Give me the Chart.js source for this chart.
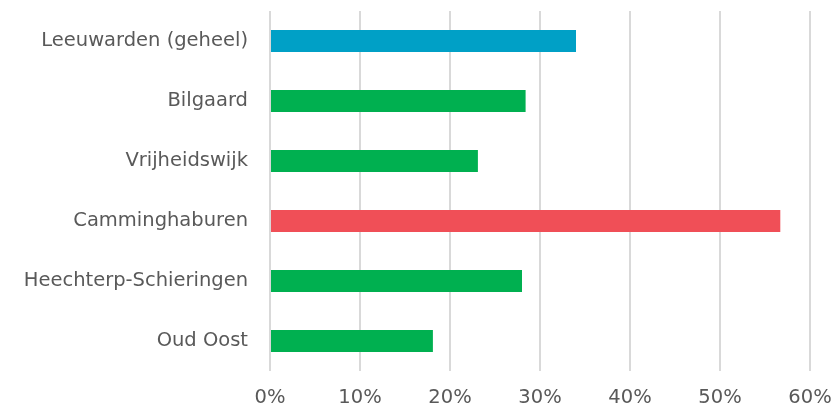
<!DOCTYPE html>
<html>
<head>
<meta charset="utf-8">
<script src="https://cdn.jsdelivr.net/npm/chart.js@4/dist/chart.umd.min.js"></script>
<style>
  html, body { margin: 0; padding: 0; background: #ffffff; }
  #wrap { width: 834px; height: 409px; }
</style>
</head>
<body>
<div id="wrap"><canvas id="barChart" width="834" height="409"></canvas></div>
<script>
// DATA
var wijken = ["Leeuwarden (geheel)", "Bilgaard", "Vrijheidswijk", "Camminghaburen", "Heechterp-Schieringen", "Oud Oost"];
var percentages = [34.0, 28.4, 23.1, 56.7, 28.0, 18.1];
var barColors = ["#00a0c6", "#00b050", "#00b050", "#f04f57", "#00b050", "#00b050"];
var tickMax = 60;
var tickStep = 10;

//CHART CONFIG
var ctx = document.getElementById("barChart").getContext('2d');
var textColor = '#595959';
var fontFamily = "'DejaVu Sans', sans-serif";

var barChart = new Chart(ctx, {
    type: 'bar',
    data: {
        labels: wijken,
        datasets: [{
            data: percentages,
            backgroundColor: barColors,
            borderWidth: 0,
            categoryPercentage: 1,
            barPercentage: 22 / 60
        }]
    },
    options: {
        indexAxis: 'y',
        animation: false,
        responsive: false,
        layout: {
            padding: { top: 11, right: 24, bottom: 0, left: 0 }
        },
        plugins: {
            legend: { display: false },
            tooltip: { enabled: false }
        },
        scales: {
            x: {
                min: 0,
                max: tickMax,
                grid: {
                    color: '#d9d9d9',
                    lineWidth: 2,
                    drawTicks: false
                },
                border: { display: false },
                ticks: {
                    stepSize: tickStep,
                    padding: 15,
                    color: textColor,
                    font: { family: fontFamily, size: 19.5 },
                    callback: function(v) { return v + '%'; }
                },
                afterFit: function(scale) {
                    scale.height = 38;
                    scale.paddingLeft = 0;
                    scale.paddingRight = 0;
                }
            },
            y: {
                grid: { display: false, drawTicks: false },
                border: { display: false },
                ticks: {
                    padding: 22,
                    color: textColor,
                    font: { family: fontFamily, size: 19.5 }
                },
                afterFit: function(scale) {
                    scale.width = 270;
                    scale.paddingTop = 0;
                    scale.paddingBottom = 0;
                }
            }
        }
    }
});
</script>
</body>
</html>
